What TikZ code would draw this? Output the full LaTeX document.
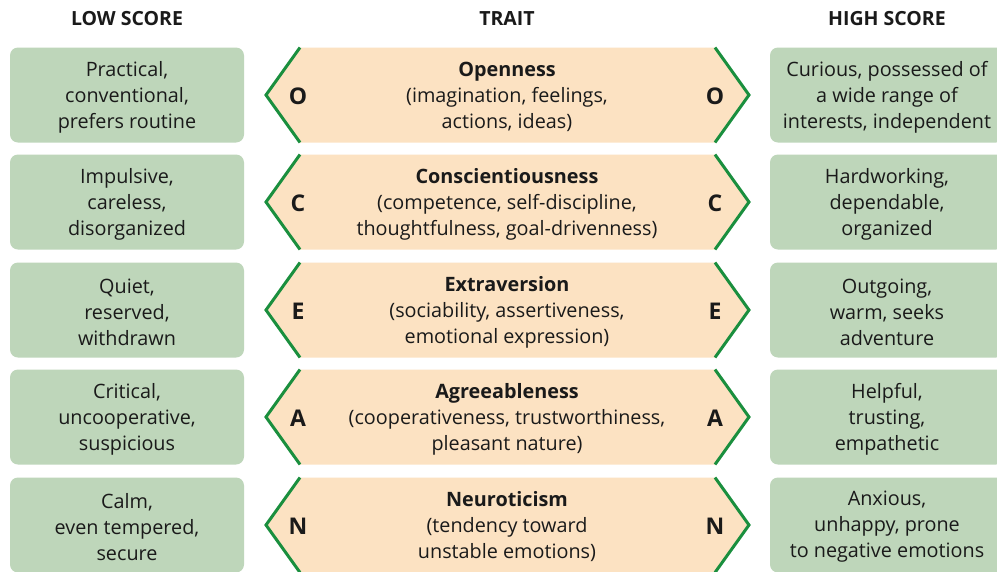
\documentclass[tikz,border=0pt]{standalone}
\usepackage{fontspec}
\setmainfont{Open Sans}
\definecolor{boxgreen}{HTML}{BED6BA}
\definecolor{peach}{HTML}{FCE2C2}
\definecolor{linegreen}{HTML}{1A8F3E}
\definecolor{txtc}{HTML}{1A1A1A}
\tikzset{
  scorebox/.style={fill=boxgreen, draw=none, rounded corners=8pt, minimum width=234pt, minimum height=95pt, inner sep=0pt},
  body/.style={align=center, text=txtc, font=\fontsize{19.8}{26}\selectfont},
  header/.style={text=txtc, font=\bfseries\fontsize{19.5}{22}\selectfont},
  letter/.style={text=txtc, font=\bfseries\fontsize{23}{24}\selectfont},
  hexfill/.style={fill=peach, draw=none},
  chevron/.style={draw=linegreen, line width=3pt},
}
\begin{document}
\begin{tikzpicture}[x=1pt,y=-1pt]
\useasboundingbox (0,0) rectangle (997,571);
\clip (0,0) rectangle (997,571);
\fill[white] (0,0) rectangle (997,571);
\node[header] (hlow) at (127,19) {LOW SCORE};
\node[header] (htrait) at (507,19) {TRAIT};
\node[header] (hhigh) at (887,19) {HIGH SCORE};
\foreach \i/\yc/\ltr/\low/\trait/\high in {
  1/95/O/{Practical,\\conventional,\\prefers routine}/{\textbf{Openness}\\(imagination, feelings,\\actions, ideas)}/{Curious, possessed of\\a wide range of\\interests, independent},
  2/202/C/{Impulsive,\\careless,\\disorganized}/{\textbf{Conscientiousness}\\(competence, self-discipline,\\thoughtfulness, goal-drivenness)}/{Hardworking,\\dependable,\\organized},
  3/310/E/{Quiet,\\reserved,\\withdrawn}/{\textbf{Extraversion}\\(sociability, assertiveness,\\emotional expression)}/{Outgoing,\\warm, seeks\\adventure},
  4/417/A/{Critical,\\uncooperative,\\suspicious}/{\textbf{Agreeableness}\\(cooperativeness, trustworthiness,\\pleasant nature)}/{Helpful,\\trusting,\\empathetic},
  5/525/N/{Calm,\\even tempered,\\secure}/{\textbf{Neuroticism}\\(tendency toward\\unstable emotions)}/{Anxious,\\unhappy, prone\\to negative emotions}}
{
  \node[scorebox] (low\i) at (127,\yc) {};
  \node[body] (lowt\i) at (127,\yc+2) {\low};
  \node[scorebox] (high\i) at (887,\yc) {};
  \node[body] (hight\i) at (887,\yc+2) {\high};
  \fill[hexfill] (300,\yc-47.5) -- (715,\yc-47.5) -- (749,\yc) -- (715,\yc+47.5) -- (300,\yc+47.5) -- (266,\yc) -- cycle;
  \draw[chevron] (300,\yc-47.5) -- (266,\yc) -- (300,\yc+47.5);
  \draw[chevron] (715,\yc-47.5) -- (749,\yc) -- (715,\yc+47.5);
  \node[body] (trait\i) at (507,\yc+2) {\trait};
  \node[letter] (ll\i) at (298,\yc+1) {\ltr};
  \node[letter] (rl\i) at (715,\yc+1) {\ltr};
}
\end{tikzpicture}
\end{document}
